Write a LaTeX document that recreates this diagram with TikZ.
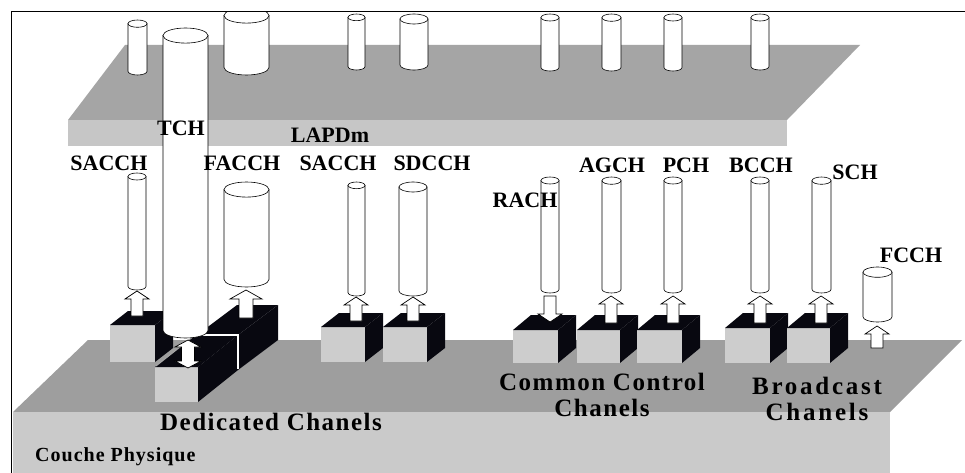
\documentclass[tikz,border=0pt]{standalone}
\usepackage{fontspec}
\setmainfont{Liberation Serif}
\newfontfamily\spacedfont[LetterSpace=6]{Liberation Serif}
\newfontfamily\widespaced[LetterSpace=11]{Liberation Serif}
\newfontfamily\lightspaced[LetterSpace=5]{Liberation Serif}
\definecolor{upslabtop}{RGB}{165,165,165}
\definecolor{upslabfront}{RGB}{198,198,198}
\definecolor{slabtop}{RGB}{158,158,158}
\definecolor{slabfront}{RGB}{202,202,202}
\definecolor{boxfront}{RGB}{205,205,205}
\definecolor{boxdark}{RGB}{8,8,16}
\newcommand{\cylin}[4]{%
 \pgfmathsetmacro{\cyCx}{(#1+#2)/2}%
 \pgfmathsetmacro{\cyRx}{(#2-#1)/2}%
 \pgfmathsetmacro{\cyRy}{0.3*\cyRx+0.8}%
 \pgfmathsetmacro{\cyT}{#3+\cyRy}%
 \pgfmathsetmacro{\cyB}{#4-\cyRy}%
 \filldraw[cylst] (#1,\cyT) -- (#1,\cyB) arc[start angle=180,end angle=0,x radius=\cyRx,y radius=\cyRy] -- (#2,\cyT) -- cycle;%
 \filldraw[cylst] (\cyCx,\cyT) ellipse[x radius=\cyRx,y radius=\cyRy];}
\newcommand{\boxcube}[6]{%
 \fill[boxfront] (#1,#3) rectangle (#2,#4);%
 \fill[boxdark] (#1,#3) -- (#2,#3) -- ++(#5,#6) -- ++({#1-#2},0) -- cycle;%
 \fill[boxdark] (#2,#3) -- ++(#5,#6) -- ++(0,{#4-#3}) -- (#2,#4) -- cycle;}
\newcommand{\blockarr}[6]{%
 \pgfmathsetmacro{\arS}{(#3>#2) ? -1 : 1}%
 \pgfmathsetmacro{\arN}{#3+\arS*#6}%
 \filldraw[arrst] (#1,#3) -- ({#1+#4/2},\arN) -- ({#1+#5/2},\arN) -- ({#1+#5/2},#2) -- ({#1-#5/2},#2) -- ({#1-#5/2},\arN) -- ({#1-#4/2},\arN) -- cycle;}
\begin{document}
\begin{tikzpicture}[x=1pt,y=-1pt,
 cylst/.style={fill=white,draw=black,line width=0.6pt},
 arrst/.style={fill=white,draw=black,line width=0.7pt,line join=miter},
 lab/.style={font=\bfseries\fontsize{22}{24}\selectfont,inner sep=0pt},
 grp/.style={font=\spacedfont\bfseries\fontsize{25}{26}\selectfont,inner sep=0pt,align=center}]
\useasboundingbox (0,0) rectangle (965,473);
\fill[white] (0,0) rectangle (965,473);
% frame
\draw[line width=1pt] (11,473) -- (11,12) -- (965,12);
% upper slab (LAPDm)
\fill[upslabtop] (125,45) -- (860,45) -- (787,120) -- (68,120) -- cycle;
\fill[upslabfront] (68,120) rectangle (787,146);
% upper cylinders
\begin{scope}
\clip (11.5,12.5) rectangle (965,473);
\cylin{128}{147}{20}{75}
\cylin{224}{269}{8}{75}
\cylin{348}{365}{14}{70}
\cylin{400}{428}{14}{70}
\cylin{541}{559}{14}{71}
\cylin{602}{621}{14}{71}
\cylin{664}{682}{14}{71}
\cylin{751}{769}{14}{70}
\end{scope}
% lower slab (Couche Physique)
\fill[slabtop] (88,340) -- (962,340) -- (890,412) -- (13,412) -- cycle;
\fill[slabfront] (13,412) rectangle (890,473);
% lower cylinders
\cylin{128}{146}{173}{290}
\cylin{224}{269}{182}{287}
\cylin{348}{365}{182}{296}
\cylin{399}{427}{182}{296}
\cylin{541}{559}{177}{293}
\cylin{602}{621}{177}{293}
\cylin{664}{682}{177}{293}
\cylin{751}{769}{177}{293}
\cylin{812}{831}{177}{293}
\cylin{863}{892}{267}{322}
% boxes
\boxcube{110}{155}{325}{362}{18}{-14}
\boxcube{197}{238}{335}{370}{40}{-30}
\boxcube{155}{198}{367}{402}{40}{-32}
\draw[white,line width=1.2pt] (192,335) -- (238,335) -- (238,369);
\draw[gray!70,line width=1pt] (156,366) -- (194,336);
\boxcube{321}{365}{327}{362}{18}{-14}
\boxcube{383}{427}{327}{362}{18}{-14}
\boxcube{513}{558}{330}{363}{18}{-15}
\boxcube{577}{620}{330}{363}{18}{-15}
\boxcube{637}{682}{330}{363}{18}{-15}
\boxcube{725}{770}{328}{363}{18}{-15}
\boxcube{787}{830}{328}{363}{18}{-15}
% TCH cylinder
\cylin{163}{208}{28}{338}
% arrows
\blockarr{137}{316}{291}{24}{12}{8}
\blockarr{246}{318}{290}{32}{14}{9}
\blockarr{356}{321}{297}{24}{12}{8}
\blockarr{413}{321}{297}{24}{12}{8}
\blockarr{550}{296}{322}{24}{12}{8}
\blockarr{611}{323}{296}{24}{12}{8}
\blockarr{673}{323}{296}{24}{12}{8}
\blockarr{760}{323}{296}{24}{12}{8}
\blockarr{821}{323}{296}{24}{12}{8}
\blockarr{877}{348}{326}{24}{12}{8}
\filldraw[arrst] (188,340) -- (201,347) -- (194.5,347) -- (194.5,361) -- (201,361) -- (188,368) -- (175,361) -- (181.5,361) -- (181.5,347) -- (175,347) -- cycle;
% labels
\node[lab] (tch) at (181,128) {TCH};
\node[lab] (lapdm) at (330,135) {LAPDm};
\node[lab] (sacch1) at (109,163) {SACCH};
\node[lab] (facch) at (242,163) {FACCH};
\node[lab] (sacch2) at (338,163) {SACCH};
\node[lab] (sdcch) at (432,163) {SDCCH};
\node[lab] (rach) at (525,200) {RACH};
\node[lab] (agch) at (612,165) {AGCH};
\node[lab] (pch) at (686,165) {PCH};
\node[lab] (bcch) at (761,165) {BCCH};
\node[lab] (sch) at (855,172) {SCH};
\node[lab] (fcch) at (911,255) {FCCH};
\node[grp] (ded) at (271,422) {Dedicated Chanels};
\node[grp] (ccc) at (602,395) {Common Control\\Chanels};
\node[grp,font=\widespaced\bfseries\fontsize{25}{26}\selectfont] (bc) at (817,399) {Broadcast\\Chanels};
\node[font=\lightspaced\bfseries\fontsize{20}{22}\selectfont,inner sep=0pt,anchor=west] (phy) at (35,457) {Couche Physique};
\end{tikzpicture}
\end{document}
